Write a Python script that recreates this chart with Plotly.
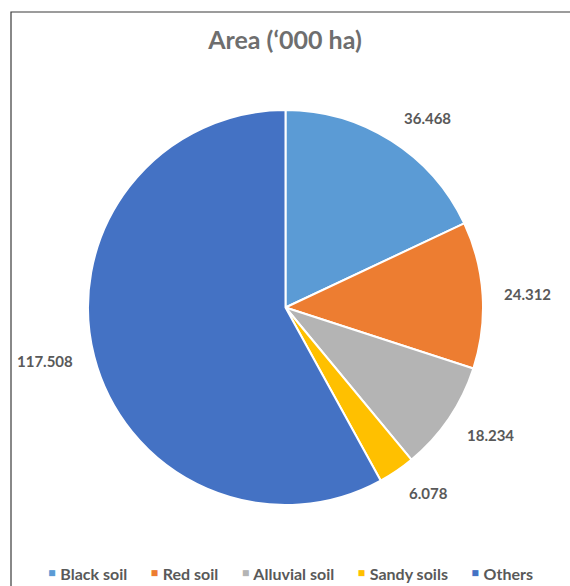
import math
import plotly.graph_objects as go

# Soil area breakdown ('000 ha)
soil_types = ["Black soil", "Red soil", "Alluvial soil", "Sandy soils", "Others"]
area_kha = [36.468, 24.312, 18.234, 6.078, 117.508]
slice_colors = ["#5B9BD5", "#ED7D31", "#B4B4B4", "#FFC000", "#4472C4"]

W, H = 570, 586
FONT = "Lato"
GREY = "#595959"

# pie placement in pixels (centre and radius)
CX, CY, R = 285.5, 307.5, 197.5
LABEL_R = R + 19.5

fig = go.Figure(
    go.Pie(
        labels=soil_types,
        values=area_kha,
        sort=False,
        direction="clockwise",
        rotation=0,
        marker=dict(colors=slice_colors, line=dict(color="white", width=2)),
        textinfo="none",
        showlegend=False,
        domain=dict(x=[(CX - R) / W, (CX + R) / W],
                    y=[1 - (CY + R) / H, 1 - (CY - R) / H]),
        hoverinfo="label+value",
    )
)

# value labels placed just outside each slice, on its mid-angle
annotations = []
total = sum(area_kha)
cum = 0.0
for v in area_kha:
    theta = 2 * math.pi * (cum + v / 2) / total
    cum += v
    s, c = math.sin(theta), math.cos(theta)
    px = CX + LABEL_R * s
    py = CY - LABEL_R * c
    xa = "left" if s > 0.3 else ("right" if s < -0.3 else "center")
    if c > 0.3:
        ya, dy = "bottom", -5
    elif c < -0.3:
        ya, dy = "top", 5
    else:
        ya, dy = "middle", 0
    annotations.append(dict(
        x=px / W, y=1 - py / H, xref="paper", yref="paper",
        text=f"{v:.3f}", showarrow=False, xanchor=xa, yanchor=ya, yshift=dy,
        font=dict(family=FONT, size=15, color=GREY, weight="bold"),
    ))

# horizontal legend row along the bottom
gap = "&nbsp;" * 6
legend_text = gap.join(
    f"<span style='color:{col};font-size:20px'>\u25AA</span>&nbsp;{name}"
    for name, col in zip(soil_types, slice_colors)
)
annotations.append(dict(
    x=290 / W, y=1 - 572 / H, xref="paper", yref="paper",
    text=legend_text, showarrow=False, xanchor="center", yanchor="middle",
    font=dict(family=FONT, size=16, color=GREY, weight="bold"),
))

fig.update_layout(
    width=W,
    height=H,
    margin=dict(l=0, r=0, t=0, b=0, autoexpand=False),
    paper_bgcolor="white",
    plot_bgcolor="white",
    showlegend=False,
    title=dict(
        text="Area (\u2018000 ha)",
        x=285 / W,
        xanchor="center",
        y=1 - 40 / H,
        yanchor="middle",
        font=dict(family=FONT, size=25, color="#6E6E6E", weight="bold"),
    ),
    annotations=annotations,
    shapes=[
        dict(
            type="rect",
            xref="paper",
            yref="paper",
            x0=11 / W,
            y0=1 - 12 / H,
            x1=1.05,
            y1=-0.05,
            line=dict(color="#3A3A3A", width=1.2),
            fillcolor="rgba(0,0,0,0)",
            layer="below",
        )
    ],
)

fig.write_html("out.html")
